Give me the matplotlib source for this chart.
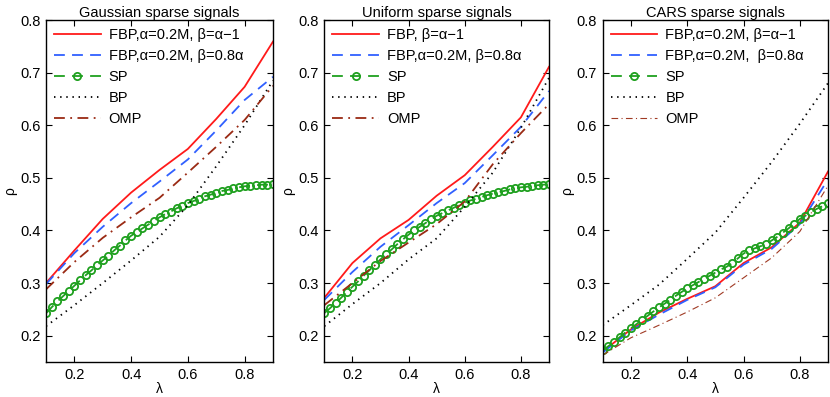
import numpy as np
import matplotlib
matplotlib.use("Agg")
import matplotlib.pyplot as plt

plt.rcParams['font.family'] = ['Liberation Sans', 'DejaVu Sans']

lam = [0.1, 0.2, 0.3, 0.4, 0.5, 0.6, 0.7, 0.8, 0.9]
lam_sp = [round(0.1 + 0.02 * i, 2) for i in range(41)]
xticks = [0.2, 0.4, 0.6, 0.8]
yticks = [0.2, 0.3, 0.4, 0.5, 0.6, 0.7, 0.8]

titles = ["Gaussian sparse signals", "Uniform sparse signals", "CARS sparse signals"]
labels = [
    ["FBP,\u03b1=0.2M, \u03b2=\u03b1\u22121", "FBP,\u03b1=0.2M, \u03b2=0.8\u03b1", "SP", "BP", "OMP"],
    ["FBP, \u03b2=\u03b1\u22121", "FBP,\u03b1=0.2M, \u03b2=0.8\u03b1", "SP", "BP", "OMP"],
    ["FBP,\u03b1=0.2M, \u03b2=\u03b1\u22121", "FBP,\u03b1=0.2M,  \u03b2=0.8\u03b1", "SP", "BP", "OMP"],
]

# Gaussian
g_fbp1 = [0.300, 0.362, 0.422, 0.472, 0.515, 0.555, 0.612, 0.673, 0.759]
g_fbp2 = [0.298, 0.357, 0.407, 0.452, 0.493, 0.535, 0.590, 0.648, 0.692]
g_bp = [0.218, 0.258, 0.300, 0.343, 0.388, 0.448, 0.522, 0.600, 0.685]
g_omp = [0.288, 0.340, 0.386, 0.425, 0.462, 0.510, 0.559, 0.610, 0.675]
g_sp = [0.2425, 0.254, 0.265, 0.275, 0.285, 0.295, 0.305, 0.315, 0.324, 0.334,
        0.343, 0.352, 0.362, 0.371, 0.381, 0.390, 0.397, 0.404, 0.411, 0.418,
        0.425, 0.431, 0.436, 0.442, 0.447, 0.452, 0.456, 0.460, 0.465, 0.468,
        0.472, 0.475, 0.477, 0.480, 0.482, 0.484, 0.485, 0.486, 0.487, 0.487,
        0.488]

# Uniform
u_fbp1 = [0.272, 0.338, 0.385, 0.420, 0.466, 0.505, 0.559, 0.615, 0.711]
u_fbp2 = [0.268, 0.321, 0.369, 0.410, 0.452, 0.490, 0.543, 0.597, 0.665]
u_bp = [0.218, 0.260, 0.300, 0.345, 0.385, 0.445, 0.510, 0.595, 0.690]
u_omp = [0.258, 0.300, 0.342, 0.377, 0.412, 0.455, 0.526, 0.585, 0.640]
u_sp = [0.243, 0.252, 0.262, 0.272, 0.283, 0.293, 0.303, 0.314, 0.324, 0.335,
        0.345, 0.355, 0.364, 0.374, 0.383, 0.392, 0.400, 0.407, 0.414, 0.421,
        0.428, 0.433, 0.438, 0.443, 0.448, 0.453, 0.457, 0.460, 0.464, 0.467,
        0.470, 0.473, 0.475, 0.478, 0.480, 0.482, 0.483, 0.485, 0.486, 0.487,
        0.488]

# CARS
c_fbp1 = [0.170, 0.212, 0.244, 0.270, 0.294, 0.338, 0.368, 0.415, 0.512]
c_fbp2 = [0.168, 0.210, 0.240, 0.268, 0.292, 0.335, 0.365, 0.412, 0.497]
c_bp = [0.220, 0.258, 0.297, 0.346, 0.396, 0.462, 0.530, 0.603, 0.680]
c_omp = [0.163, 0.196, 0.220, 0.245, 0.272, 0.310, 0.348, 0.398, 0.485]
c_sp = [0.172, 0.180, 0.188, 0.197, 0.206, 0.214, 0.222, 0.230, 0.238, 0.246,
        0.254, 0.261, 0.268, 0.276, 0.283, 0.290, 0.296, 0.302, 0.308, 0.314,
        0.320, 0.326, 0.331, 0.338, 0.347, 0.356, 0.362, 0.366, 0.370, 0.374,
        0.381, 0.388, 0.396, 0.404, 0.413, 0.422, 0.428, 0.435, 0.441, 0.446,
        0.452]

panels = [
    (g_fbp1, g_fbp2, g_sp, g_bp, g_omp),
    (u_fbp1, u_fbp2, u_sp, u_bp, u_omp),
    (c_fbp1, c_fbp2, c_sp, c_bp, c_omp),
]

RED = '#ff1a1a'
BLUE = '#3060ff'
GREEN = '#1fa01f'
BROWN = '#9a2a14'

fig = plt.figure(figsize=(8.3, 3.97), dpi=100)
lefts = [46 / 830, 324.3 / 830, 602.7 / 830]
widths = [227 / 830, 224.7 / 830, 225.3 / 830]
bottom = 1 - 362 / 397
height = 342 / 397

for i, (fbp1, fbp2, sp, bp, omp) in enumerate(panels):
    ax = fig.add_axes([lefts[i], bottom, widths[i], height])
    lb = labels[i]
    ax.plot(lam, fbp1, '-', color=RED, lw=1.3, label=lb[0])
    ax.plot(lam, fbp2, '--', color=BLUE, lw=1.3, dashes=(6, 4), label=lb[1])
    ax.plot(lam_sp, sp, '--', color=GREEN, lw=1.3, dashes=(6, 4), marker='o',
            ms=5.2, mfc='none', mec=GREEN, mew=1.3, label=lb[2])
    ax.plot(lam, bp, ':', color='black', lw=1.3, dashes=(0.8, 2.6), label=lb[3])
    omp_lw = 1.3 if i < 2 else 0.8
    omp_col = BROWN if i < 2 else '#a03a24'
    ax.plot(lam, omp, '-.', color=omp_col, lw=omp_lw, dashes=(6, 3, 1, 3), label=lb[4])

    ax.set_xlim(0.1, 0.9)
    ax.set_ylim(0.15, 0.8)
    ax.set_xticks(xticks)
    ax.set_yticks(yticks)
    ax.set_xticklabels([f"{t:.1f}" for t in xticks])
    ax.set_yticklabels([f"{t:.1f}" for t in yticks])
    ax.tick_params(direction='in', top=True, right=True, length=4, width=0.8,
                   labelsize=10.5, pad=4)
    for s in ax.spines.values():
        s.set_linewidth(1.0)
    ax.set_title(titles[i], fontsize=10.5, pad=2)
    ax.set_xlabel('\u03bb', fontsize=10, labelpad=0)
    ax.set_ylabel('\u03c1', fontsize=10, labelpad=2)

    h, l = ax.get_legend_handles_labels()
    ax.legend(h, l, loc='upper left', frameon=False, fontsize=10.5,
              handlelength=3.2, handletextpad=0.55, labelspacing=0.48,
              borderaxespad=0.15, numpoints=1)

fig.savefig('out.png', dpi=100)
